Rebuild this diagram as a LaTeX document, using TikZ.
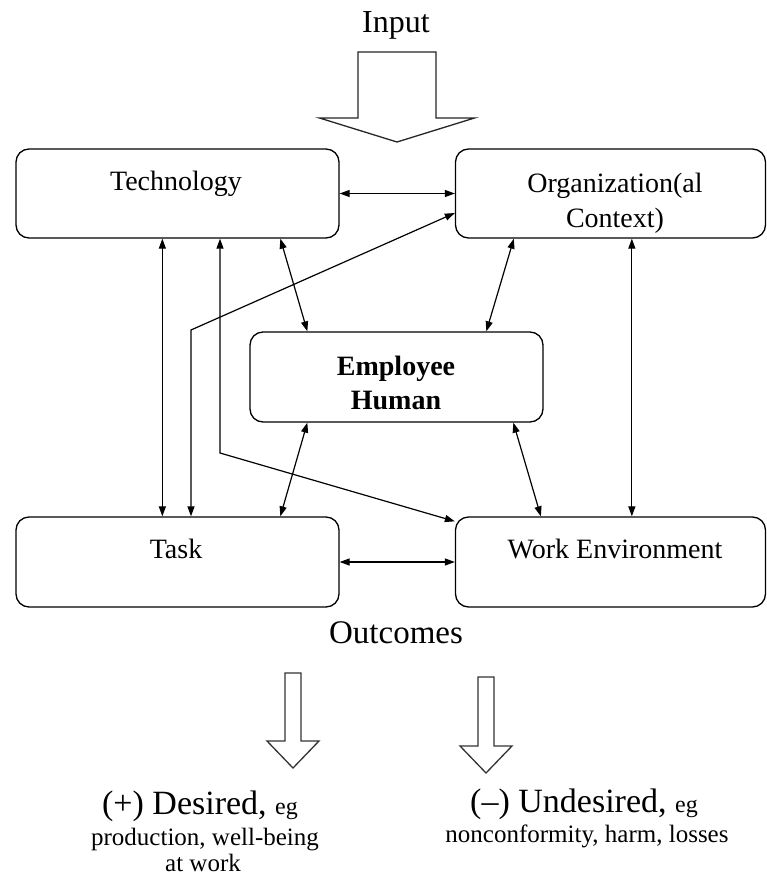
\documentclass[tikz,border=0pt]{standalone}
\usepackage{fontspec}
\setmainfont{Liberation Serif}
\usetikzlibrary{arrows.meta,calc}
\begin{document}
\begin{tikzpicture}[x=1pt,y=-1pt,
  box/.style={draw, line width=1.3pt, rounded corners=13pt, inner sep=0pt},
  lbl/.style={anchor=base, inner sep=0pt, align=center},
  link/.style={line width=1.2pt, {Triangle[length=10pt,width=7pt]}-{Triangle[length=10pt,width=7pt]}},
  block/.style={draw=black!80, line width=1.3pt, fill=white, line join=miter},
  fbox/.style={font=\fontsize{28}{28}\selectfont},
]
\useasboundingbox[fill=white] (0,0) rectangle (767,878);

% boxes
\node[box, minimum width=323pt, minimum height=89pt] (tech) at (177.5,193.5) {};
\node[box, minimum width=310pt, minimum height=89pt] (org)  at (610.5,193.5) {};
\node[box, minimum width=293pt, minimum height=90pt] (emp)  at (396.5,377) {};
\node[box, minimum width=323pt, minimum height=90pt] (task) at (177.5,562) {};
\node[box, minimum width=310pt, minimum height=90pt] (we)   at (610.5,562) {};

% box texts
\node[lbl, fbox] (techtxt) at (176,190) {Technology};
\node[lbl, fbox] (orgtxt1) at (615,192) {Organization(al};
\node[lbl, fbox] (orgtxt2) at (615,227) {Context)};
\node[lbl, font=\fontsize{28}{28}\selectfont\bfseries] (emptxt1) at (396,375) {Employee};
\node[lbl, font=\fontsize{28}{28}\selectfont\bfseries] (emptxt2) at (396,409) {Human};
\node[lbl, fbox] (tasktxt) at (176,558) {Task};
\node[lbl, fbox] (wetxt) at (615,558) {Work Environment};

% titles
\node[lbl, font=\fontsize{32}{32}\selectfont] (input) at (396,32) {Input};
\node[lbl, font=\fontsize{33}{33}\selectfont] (outc) at (396,643) {Outcomes};

% outcome texts
\node[lbl] (des1) at (200,814) {{\fontsize{34}{34}\selectfont (+) Desired,\ }{\fontsize{24}{24}\selectfont eg}};
\node[lbl, font=\fontsize{25}{25}\selectfont] (des2) at (205,845) {production, well-being};
\node[lbl, font=\fontsize{25}{25}\selectfont] (des3) at (203,871) {at work};
\node[lbl] (und1) at (584,812) {{\fontsize{34}{34}\selectfont (–) Undesired,\ }{\fontsize{24}{24}\selectfont eg}};
\node[lbl, font=\fontsize{25}{25}\selectfont] (und2) at (587,842) {nonconformity, harm, losses};

% block arrows
\draw[block, draw=black!85] (358,52) -- (436,52) -- (436,118) -- (474.5,118) -- (397,142)
  -- (319.5,118) -- (358,118) -- cycle;
\draw[block] (285,673) -- (301,673) -- (301,741) -- (319,741) -- (293,768)
  -- (267,741) -- (285,741) -- cycle;
\draw[block] (478,677) -- (494,677) -- (494,746) -- (512,746) -- (486,773)
  -- (460,746) -- (478,746) -- cycle;

% connectors
\draw[link] (tech.east) -- (org.west);
\draw[link] (task.east) -- (we.west);
\draw[link] ($(tech.south west)+(147,0)$) -- ($(task.north west)+(147,0)$);
\coordinate (bendA) at (191,330);
\draw[link] ($(org.west)+(0,19.5)$) -- (bendA) -- (bendA |- task.north);
\coordinate (bendB) at (220,453);
\draw[link] (bendB |- tech.south) -- (bendB) -- ($(we.north west)+(0,5)$);
\draw[link] ($(tech.south west)+(265,0)$) -- ($(emp.north west)+(58,0)$);
\draw[link] ($(org.south west)+(59,0)$) -- ($(emp.north west)+(237,0)$);
\draw[link] ($(org.south west)+(177,0)$) -- ($(we.north west)+(177,0)$);
\draw[link] ($(emp.south west)+(58,0)$) -- ($(task.north west)+(265,0)$);
\draw[link] ($(emp.south west)+(264,0)$) -- ($(we.north west)+(86,0)$);
\end{tikzpicture}
\end{document}
